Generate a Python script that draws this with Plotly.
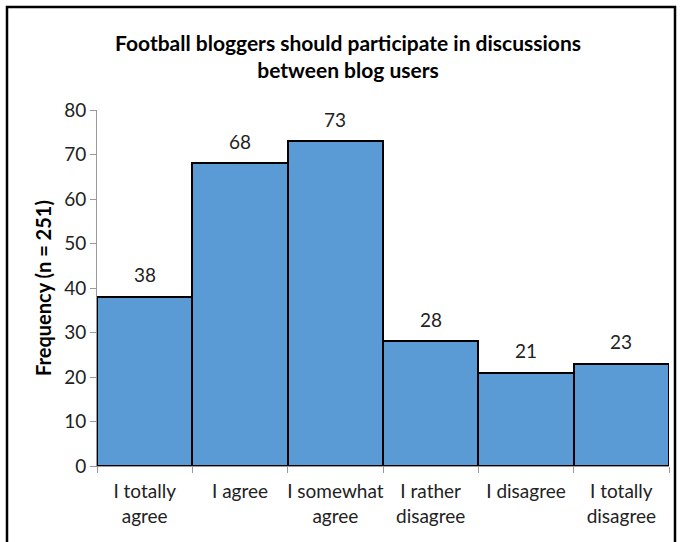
import plotly.graph_objects as go

categories = ["I totally<br>agree", "I agree", "I somewhat<br>agree",
              "I rather<br>disagree", "I disagree", "I totally<br>disagree"]
frequency = [38, 68, 73, 28, 21, 23]
y_ticks = [0, 10, 20, 30, 40, 50, 60, 70, 80]

FONT = "Lato, Carlito, Calibri, sans-serif"
TXT = "#222"
W, H = 681, 542
L, R, T, B = 97, 12, 110, 76

fig = go.Figure(go.Bar(
    x=categories,
    y=frequency,
    marker=dict(color="#5B9BD5", line=dict(color="black", width=2)),
))

# value labels above each bar
for cat, val in zip(categories, frequency):
    fig.add_annotation(x=cat, y=val, text=str(val), showarrow=False,
                       yanchor="middle", yshift=22,
                       font=dict(family=FONT, size=19, color=TXT))

# outer frame around the chart
pw, ph = W - L - R, H - T - B
fig.add_shape(type="rect", xref="paper", yref="paper",
              x0=(7 - L) / pw, x1=(675 - L) / pw,
              y0=-(B + 10) / ph, y1=1 + (T - 7) / ph,
              line=dict(color="black", width=2.5), fillcolor="rgba(0,0,0,0)")

fig.update_layout(
    width=W, height=H,
    margin=dict(l=L, r=R, t=T, b=B, autoexpand=False),
    paper_bgcolor="white", plot_bgcolor="white",
    bargap=0, showlegend=False,
    font=dict(family=FONT, size=19, color=TXT),
    title=dict(
        text="<b>Football bloggers should participate in discussions<br>between blog users</b>",
        x=348 / W, xanchor="center", y=1 - 51 / H, yanchor="middle",
        font=dict(family=FONT, size=21, color="black"),
    ),
    xaxis=dict(
        type="category", tickson="boundaries", ticks="outside", ticklen=6,
        tickcolor="#999", showline=True, linecolor="#999", linewidth=1,
        showgrid=False, ticklabelstandoff=8, tickangle=0, automargin=False,
        tickfont=dict(family=FONT, size=19, color=TXT),
    ),
    yaxis=dict(
        range=[0, 80], tickvals=y_ticks, ticks="outside", ticklen=6,
        tickcolor="#999", showline=True, linecolor="#999", linewidth=1,
        showgrid=False, zeroline=False, automargin=False,
        tickfont=dict(family=FONT, size=19, color=TXT),
        title=dict(text="<b>Frequency (n = 251)</b>", standoff=7,
                   font=dict(family=FONT, size=20, color="black")),
    ),
)

fig.write_html("out.html")
